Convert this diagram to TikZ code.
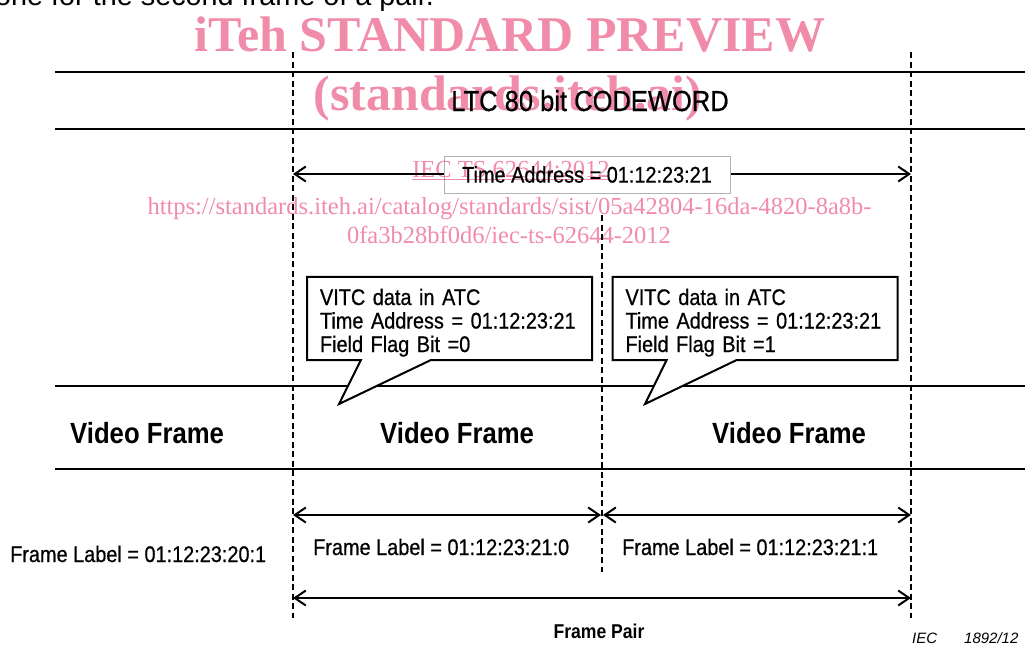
\documentclass[tikz,border=0pt]{standalone}
\usepackage{fontspec}
\setmainfont{Liberation Sans}[FakeStretch=0.88, UprightFeatures={FakeBold=0.6}]
\newfontfamily\plainsans{Liberation Sans}
\newfontfamily\wmserif{Liberation Serif}
\usepackage{xcolor}
\usetikzlibrary{arrows.meta,shapes.callouts}
\definecolor{wmpink}{RGB}{240,140,170}

\begin{document}
\begin{tikzpicture}[x=1pt, y=-1pt,
    frameline/.style={line width=2pt},
    markline/.style={line width=2pt, dash pattern=on 6pt off 3.5pt},
    dimarrow/.style={{Straight Barb[length=11pt,width=15pt]}-{Straight Barb[length=11pt,width=15pt]}, line width=2pt},
    lbl/.style={inner sep=0pt, anchor=base west, font=\fontsize{22.6}{23.5}\selectfont},
    vf/.style={inner sep=0pt, anchor=base west, font=\fontsize{29.2}{30}\selectfont\bfseries},
    callbox/.style={rectangle callout, draw, line width=2pt, fill=white, callout pointer width=70pt, text width=259pt, align=left, inner xsep=13pt, minimum height=83pt, font=\fontsize{22.6}{23.5}\selectfont},
    wm/.style={inner sep=0pt, anchor=base, text=wmpink}
]
    \useasboundingbox (0,0) rectangle (1025,649);

    \node[inner sep=0pt, anchor=base west, font=\plainsans\fontsize{28.8}{30}\selectfont] (pagetext) at (-5,5) {one for the second frame of a pair.};

    \foreach \y in {72,129,386,469}
        \draw[frameline] (55,\y) -- (1025,\y);

    \coordinate (aTop) at (293,52);  \coordinate (aBot) at (293,618);
    \coordinate (bTop) at (602,215); \coordinate (bBot) at (602,572);
    \coordinate (cTop) at (911,52);  \coordinate (cBot) at (911,618);
    \draw[markline] (aTop) -- (aBot);
    \draw[markline] (bTop) -- (bBot);
    \draw[markline] (cTop) -- (cBot);

    \node[inner sep=0pt, anchor=base, font=\fontsize{29}{30}\selectfont] (ltc) at (590,111) {LTC 80 bit CODEWORD};

    \coordinate (taL) at (293,174); \coordinate (taR) at (911,174);
    \draw[dimarrow] (taL) -- (taR);
    \node[draw=black!30, line width=0.8pt, fill=white, minimum width=286pt, minimum height=37pt, font=\fontsize{22.6}{23.5}\selectfont] (taddr) at (587,174.5) {Time Address = 01:12:23:21};

    \node[callbox, callout absolute pointer={(339,404)}] (vitcA) at (449.5,318.5) {\rule{0pt}{24.7pt}VITC data in ATC\\Time Address = 01:12:23:21\\Field Flag Bit =0};
    \node[callbox, callout absolute pointer={(645,404)}] (vitcB) at (755,318.5) {\rule{0pt}{24.7pt}VITC data in ATC\\Time Address = 01:12:23:21\\Field Flag Bit =1};

    \node[vf] (vf0) at (70,443) {Video Frame};
    \node[vf] (vf1) at (380,443) {Video Frame};
    \node[vf] (vf2) at (712,443) {Video Frame};

    \coordinate (flA) at (293,515); \coordinate (flB) at (601,515);
    \coordinate (flC) at (603,515); \coordinate (flD) at (911,515);
    \draw[dimarrow] (flA) -- (flB);
    \draw[dimarrow] (flC) -- (flD);
    \node[lbl] (fl0) at (10,562) {Frame Label = 01:12:23:20:1};
    \node[lbl] (fl1) at (313,555) {Frame Label = 01:12:23:21:0};
    \node[lbl] (fl2) at (622,555) {Frame Label = 01:12:23:21:1};

    \coordinate (fpL) at (293,598); \coordinate (fpR) at (911,598);
    \draw[dimarrow] (fpL) -- (fpR);
    \node[inner sep=0pt, anchor=base, font=\fontsize{20}{22}\selectfont\bfseries] (pair) at (599,638) {Frame Pair};

    \node[inner sep=0pt, anchor=base west, font=\plainsans\fontsize{15}{16}\selectfont\itshape] (iec) at (912,643) {IEC\hspace{1.8em}1892/12};

    \begin{scope}[blend mode=multiply]
        \node[wm, font=\wmserif\bfseries\fontsize{50}{52}\selectfont] (wmA) at (510,51) {iTeh STANDARD PREVIEW};
        \node[wm, font=\wmserif\bfseries\fontsize{50}{52}\selectfont] (wmB) at (508,110) {(standards.iteh.ai)};
        \node[wm, font=\wmserif\fontsize{24.5}{26}\selectfont] (wmC) at (511,177) {\underline{IEC TS 62644:2012}};
        \node[wm, font=\wmserif\fontsize{24.5}{26}\selectfont] (wmD) at (509.5,214) {https://standards.iteh.ai/catalog/standards/sist/05a42804-16da-4820-8a8b-};
        \node[wm, font=\wmserif\fontsize{24.5}{26}\selectfont] (wmE) at (509,243) {0fa3b28bf0d6/iec-ts-62644-2012};
    \end{scope}
\end{tikzpicture}
\end{document}
